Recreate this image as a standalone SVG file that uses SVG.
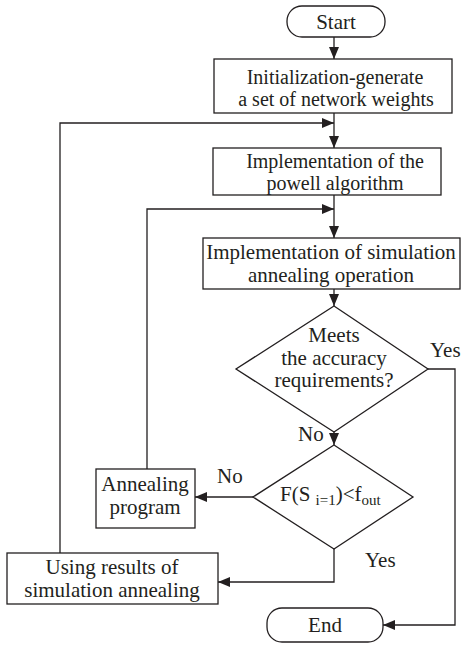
<svg xmlns="http://www.w3.org/2000/svg" width="461" height="645" viewBox="0 0 461 645">
<style>
.s{fill:#fff;stroke:#231f20;stroke-width:1.3}
.t{font-family:"Liberation Serif","Times New Roman",serif;font-size:21px;fill:#231f20;text-anchor:middle}
.n{font-size:20px}
.l{font-family:"Liberation Serif","Times New Roman",serif;font-size:21px;fill:#231f20}
.c{fill:none;stroke:#231f20;stroke-width:1.3}
</style>
<defs>
<marker id="a" viewBox="0 0 12 10" refX="12" refY="5" markerWidth="12" markerHeight="10" markerUnits="userSpaceOnUse" orient="auto">
<path d="M0,0 L12,5 L0,10 z" fill="#231f20"/>
</marker>
</defs>
<rect width="461" height="645" fill="#fff"/>
<g id="connectors">
<path class="c" d="M334,37 V59" marker-end="url(#a)"/>
<path class="c" d="M334,113 V148" marker-end="url(#a)"/>
<path class="c" d="M334,195 V238" marker-end="url(#a)"/>
<path class="c" d="M334,289 V306" marker-end="url(#a)"/>
<path class="c" d="M334,432 V445" marker-end="url(#a)"/>
<path class="c" d="M428,369 H455 V625 H383" marker-end="url(#a)"/>
<path class="c" d="M253,497 H195" marker-end="url(#a)"/>
<path class="c" d="M334,549 V582 H218" marker-end="url(#a)"/>
<path class="c" d="M147,469 V209 H334" marker-end="url(#a)"/>
<path class="c" d="M60,553 V123 H334" marker-end="url(#a)"/>
</g>
<g id="start">
<rect class="s" x="287" y="6" width="98" height="31" rx="15" ry="15"/>
<text class="t" x="336" y="29">Start</text>
</g>
<g id="init">
<rect class="s" x="214" y="59" width="238" height="54"/>
<text class="t n" x="335" y="84">Initialization-generate</text>
<text class="t n" x="336" y="106">a set of network weights</text>
</g>
<g id="powell">
<rect class="s" x="213" y="148" width="228" height="47"/>
<text class="t n" x="335" y="168">Implementation of the</text>
<text class="t n" x="335" y="190">powell algorithm</text>
</g>
<g id="sa">
<rect class="s" x="203" y="238" width="257" height="51"/>
<text class="t" x="331" y="259">Implementation of simulation</text>
<text class="t" x="331" y="282">annealing operation</text>
</g>
<g id="accuracy">
<polygon class="s" points="334,306 428,369 334,432 236,369"/>
<text class="t" x="334" y="342">Meets</text>
<text class="t" x="334" y="365">the accuracy</text>
<text class="t" x="334" y="387">requirements?</text>
</g>
<g id="cond">
<polygon class="s" points="334,445 413,497 334,549 253,497"/>
<text class="l" x="280" y="501">F(S <tspan font-size="15" dy="4">i=1</tspan><tspan dy="-4">)&lt;f</tspan><tspan font-size="15" dy="4">out</tspan></text>
</g>
<g id="annealing">
<rect class="s" x="96" y="469" width="99" height="59"/>
<text class="t" x="145" y="491">Annealing</text>
<text class="t" x="145" y="514">program</text>
</g>
<g id="using">
<rect class="s" x="7" y="553" width="211" height="51"/>
<text class="t" x="112" y="574">Using results of</text>
<text class="t" x="112" y="597">simulation annealing</text>
</g>
<g id="end">
<rect class="s" x="267" y="608" width="116" height="34" rx="15" ry="15"/>
<text class="t" x="325" y="632">End</text>
</g>
<g id="labels">
<text class="l" x="430" y="357">Yes</text>
<text class="l" x="298" y="441">No</text>
<text class="l" x="217" y="483">No</text>
<text class="l" x="365" y="567">Yes</text>
</g>
</svg>
